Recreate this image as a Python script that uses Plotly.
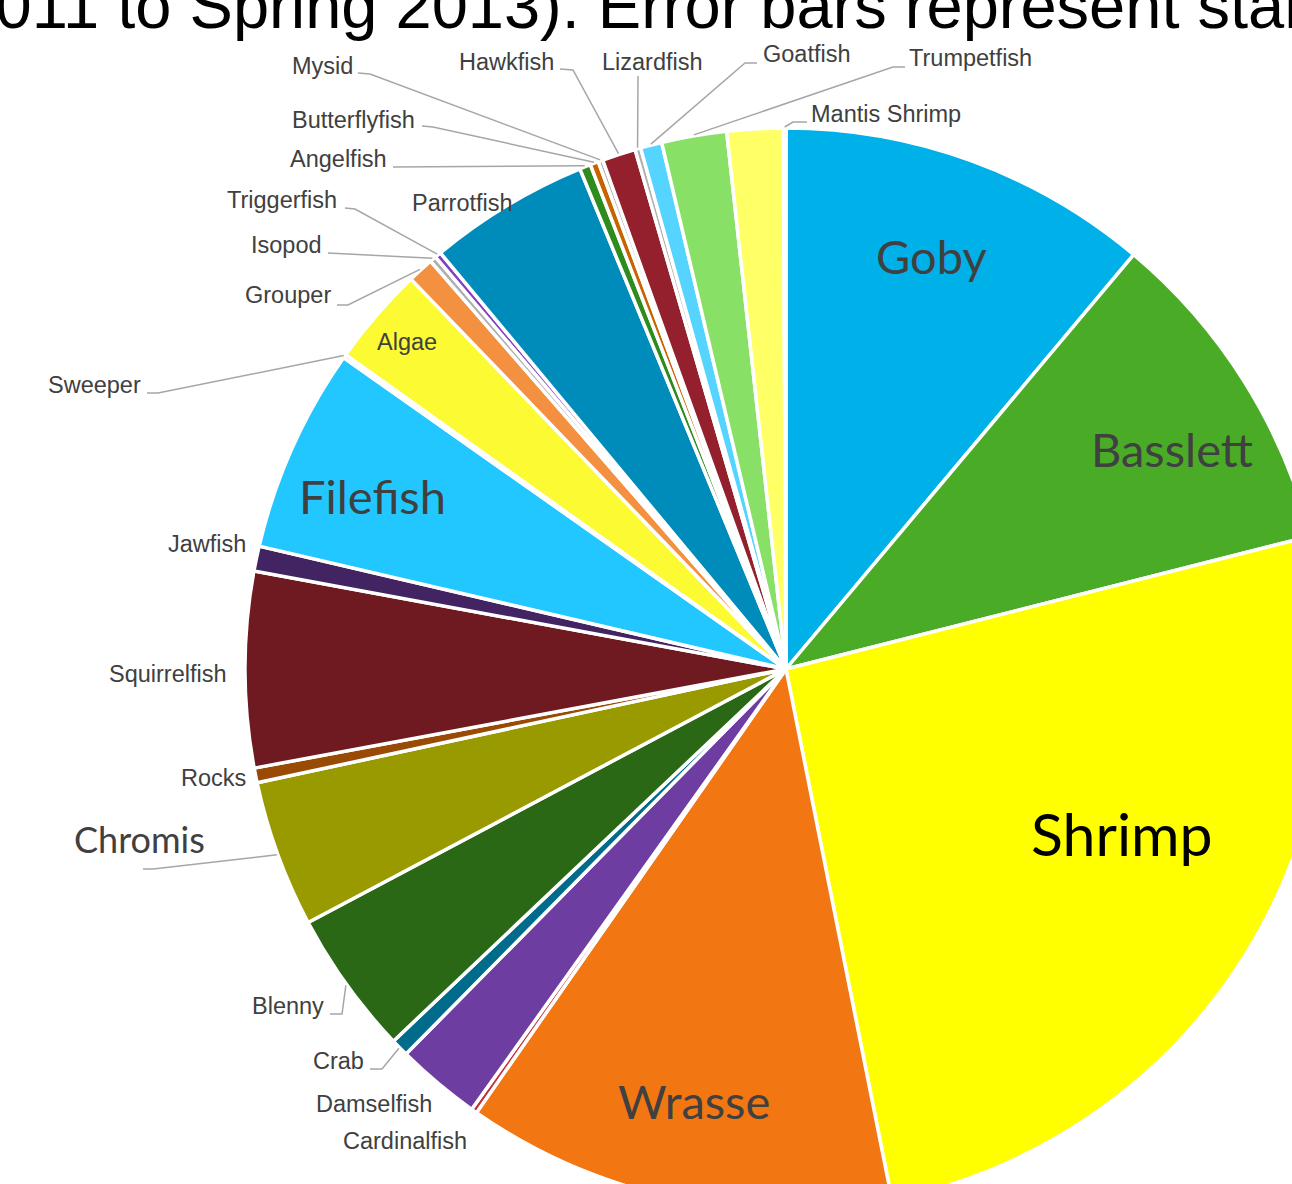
import math
import plotly.graph_objects as go

# ---------------- data ----------------
categories = ["Goby", "Basslett", "Shrimp", "Wrasse", "Cardinalfish", "Damselfish", "Crab",
              "Blenny", "Chromis", "Rocks", "Squirrelfish", "Jawfish", "Filefish", "Sweeper",
              "Algae", "Grouper", "Isopod", "Triggerfish", "Parrotfish", "Angelfish",
              "Butterflyfish", "Mysid", "Hawkfish", "Lizardfish", "Goatfish", "Trumpetfish",
              "Unidentified", "Mantis Shrimp"]
values = [11.11, 9.94, 25.81, 12.83, 0.17, 2.53, 0.53,
          4.31, 4.39, 0.44, 5.83, 0.75, 6.11, 0.11,
          2.94, 0.78, 0.19, 0.19, 4.81, 0.33,
          0.25, 0.14, 1.00, 0.17, 0.64, 1.94,
          1.67, 0.08]
colors = ["#00B0E8", "#4AAB26", "#FFFF00", "#F27612", "#C0303A", "#6E3DA2", "#006B8B",
          "#2A6816", "#999900", "#994A05", "#6E1A20", "#432462", "#22C7FF", "#D9D9D9",
          "#FCFA32", "#F39140", "#B0B0B0", "#8040C0", "#008CBA", "#2E8B1E",
          "#C86400", "#B0B0B0", "#93202C", "#B0B0B0", "#55D4FF", "#88E066",
          "#FFFF66", "#B0B0B0"]
title_text = "(Fall 2011 to Spring 2013). Error bars represent standard error."

# ---------------- layout geometry ----------------
W, H = 1340, 1230
ML, MT, PW = 245, 128, 1082
MR = W - ML - PW
MB = H - MT - PW
CX, CY = ML + PW / 2, MT + PW / 2
R_LEADER = 542


def paper(x, y):
    return (x - ML) / PW, 1 - (y - MT) / PW


# small (Arial-like) labels: name -> (x, y, xanchor, elbow points)
small_labels = {
    "Mysid": (354, 66, "right", [(358, 73), (370, 74)]),
    "Butterflyfish": (416, 120, "right", [(422, 126), (433, 127)]),
    "Angelfish": (388, 159, "right", [(393, 167)]),
    "Hawkfish": (555, 62, "right", [(560, 69), (573, 70)]),
    "Lizardfish": (652, 62, "center", [(638, 76)]),
    "Goatfish": (762, 54, "left", [(757, 63), (745, 63)]),
    "Trumpetfish": (908, 58, "left", [(905, 67), (893, 67)]),
    "Mantis Shrimp": (810, 114, "left", [(807, 122), (793, 122)]),
    "Triggerfish": (338, 200, "right", [(345, 208), (355, 209)]),
    "Isopod": (323, 245, "right", [(328, 253)]),
    "Grouper": (332, 295, "right", [(337, 305), (348, 305)]),
    "Sweeper": (142, 385, "right", [(147, 393), (158, 393)]),
    "Blenny": (325, 1006, "right", [(330, 1014), (342, 1014)]),
    "Crab": (365, 1061, "right", [(370, 1069), (382, 1069)]),
    "Parrotfish": (462, 203, "center", None),
    "Algae": (407, 342, "center", None),
    "Jawfish": (247, 544, "right", None),
    "Squirrelfish": (228, 674, "right", None),
    "Rocks": (247, 778, "right", None),
    "Damselfish": (433, 1104, "right", None),
    "Cardinalfish": (468, 1141, "right", None),
}
# large (Calibri-like) labels: name -> (x, y, size, colour, elbow points)
big_labels = {
    "Goby": (931, 256, 47, "#404040", None),
    "Basslett": (1172, 449, 47, "#404040", None),
    "Shrimp": (1122, 833, 59, "#000000", None),
    "Wrasse": (694, 1101, 47, "#404040", None),
    "Filefish": (372, 496, 47, "#404040", None),
    "Chromis": (139, 839, 36, "#404040", [(143, 869), (153, 869)]),
}

# mid angle of each slice (clockwise from 12 o'clock)
total = sum(values)
mid_angle = {}
acc = 0.0
for c, v in zip(categories, values):
    mid_angle[c] = (acc + v / 2) / total * 2 * math.pi
    acc += v


def slice_point(name):
    a = mid_angle[name]
    return CX + R_LEADER * math.sin(a), CY - R_LEADER * math.cos(a)


fig = go.Figure(go.Pie(
    labels=categories, values=values, sort=False, direction="clockwise", rotation=0,
    textinfo="none", hoverinfo="label+percent",
    marker=dict(colors=colors, line=dict(color="white", width=3.5)),
    domain=dict(x=[0, 1], y=[0, 1]), showlegend=False,
))

annotations = []
shapes = []
LINE = dict(color="#A6A6A6", width=1.5)


def add_leader(name, pts):
    full = list(pts) + [slice_point(name)]
    d = ""
    for i, (x, y) in enumerate(full):
        px, py = paper(x, y)
        d += ("M" if i == 0 else " L") + f" {px:.5f} {py:.5f}"
    shapes.append(dict(type="path", xref="paper", yref="paper", path=d, line=LINE))


for name, (x, y, xa, pts) in small_labels.items():
    px, py = paper(x, y)
    annotations.append(dict(x=px, y=py, xref="paper", yref="paper", text=name, showarrow=False,
                            xanchor=xa, yanchor="middle", borderpad=0,
                            font=dict(family="Liberation Sans, Arial", size=23.5, color="#404040")))
    if pts:
        add_leader(name, pts)

for name, (x, y, size, col, pts) in big_labels.items():
    px, py = paper(x, y)
    annotations.append(dict(x=px, y=py, xref="paper", yref="paper", text=name, showarrow=False,
                            xanchor="center", yanchor="middle", borderpad=0,
                            font=dict(family="Lato, Open Sans, sans-serif", size=size, color=col)))
    if pts:
        add_leader(name, pts)

tx, ty = paper(-186, 5)
annotations.append(dict(x=tx, y=ty, xref="paper", yref="paper", text=title_text, showarrow=False,
                        xanchor="left", yanchor="middle", borderpad=0,
                        font=dict(family="Liberation Sans, Arial", size=65, color="#000000")))

fig.update_layout(
    width=W, height=H, autosize=False,
    margin=dict(l=ML, r=MR, t=MT, b=MB, pad=0),
    paper_bgcolor="white", plot_bgcolor="white",
    annotations=annotations, shapes=shapes,
)

post = ("var gd=document.getElementById('{plot_id}');"
        "document.documentElement.style.overflow='hidden';"
        "document.body.style.margin='0';document.body.style.overflow='hidden';"
        "var p=gd.parentElement;p.style.width='1292px';p.style.height='1184px';p.style.overflow='hidden';")
fig.write_html("out.html", post_script=post, config={"displayModeBar": False})
